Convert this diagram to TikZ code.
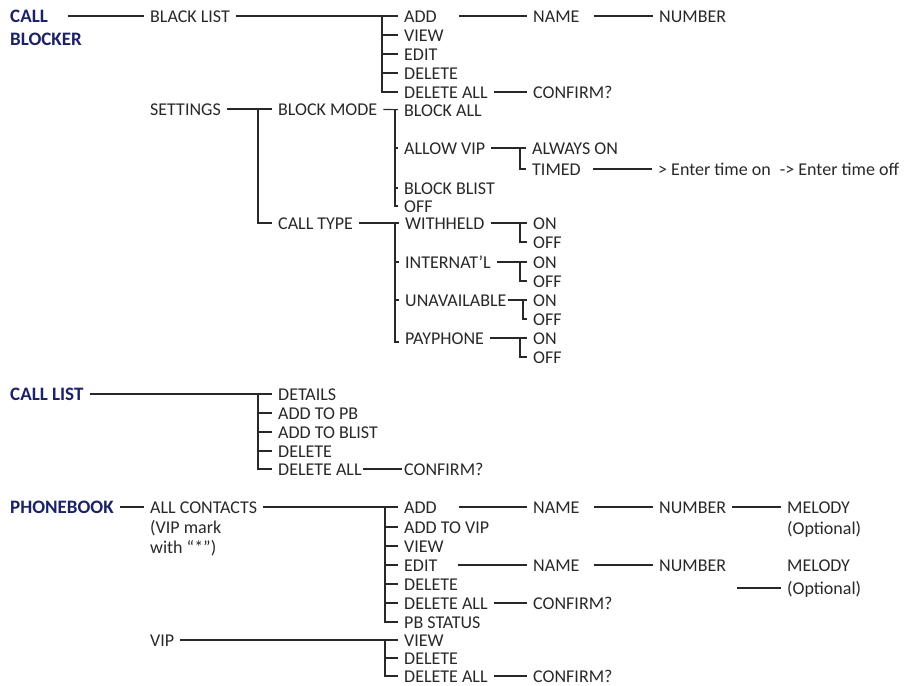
\documentclass[tikz,border=0pt]{standalone}
\usepackage{fontspec}
\setmainfont{Carlito}
\usepackage{xcolor}
\usepackage{tikz}

\definecolor{menublue}{RGB}{28,34,102}
\definecolor{menuink}{RGB}{40,40,40}

\tikzset{
  item/.style={anchor=west, inner xsep=6pt, inner ysep=0pt, text height=13pt, text depth=0pt,
    text=menuink, font=\fontsize{18}{18}\selectfont},
  head/.style={item, text=menublue, font=\fontsize{19}{19}\selectfont\bfseries},
  link/.style={draw=menuink, line width=1.1pt},
}

\begin{document}
\begin{tikzpicture}[x=1pt,y=-1pt]
\useasboundingbox (0,0) rectangle (907,685);

% call blocker
\node[head] (cb) at (4,16) {CALL};
\node[head] (cb2) at (4,39) {BLOCKER};
\node[item] (blist) at (144,16) {BLACK LIST};
\node[item] (bladd) at (398,16) {ADD};
\node[item] (blview) at (398,35) {VIEW};
\node[item] (bledit) at (398,54) {EDIT};
\node[item] (bldel) at (398,73) {DELETE};
\node[item] (bldelall) at (398,92) {DELETE ALL};
\node[item] (blname) at (527,16) {NAME};
\node[item] (blnumber) at (653,16) {NUMBER};
\node[item] (blconfirm) at (527,92) {CONFIRM?};

\draw[link] ([xshift=14pt]cb.east) -- (blist);
\draw[link] (blist) -- (bladd);
\coordinate (blspine) at (382,16);
\draw[link] (blspine) |- (bldelall);
\draw[link] (blspine |- blview) -- (blview);
\draw[link] (blspine |- bledit) -- (bledit);
\draw[link] (blspine |- bldel) -- (bldel);
\draw[link] ([xshift=16pt]bladd.east) -- (blname);
\draw[link] ([xshift=8pt]blname.east) -- (blnumber);
\draw[link] (bldelall) -- (blconfirm);

% settings
\node[item] (settings) at (144,109) {SETTINGS};
\node[item] (bmode) at (272,109) {BLOCK MODE};
\node[item] (bmall) at (398,110) {BLOCK ALL};
\node[item] (bmvip) at (398,148) {ALLOW VIP};
\node[item] (bmblist) at (398,188) {BLOCK BLIST};
\node[item] (bmoff) at (398,206) {OFF};
\node[item] (vipon) at (526,148) {ALWAYS ON};
\node[item] (viptimed) at (526,169) {TIMED};
\node[item] (viptime) at (652,169) {> Enter time on\enspace -> Enter time off};

\draw[link] (settings) -- (bmode);
\coordinate (setspine) at (258,109);
\draw[link] (bmode) -- (bmall);
\coordinate (bmspine) at (395,110);
\draw[link] (bmspine) |- (bmoff);
\draw[link] (bmspine |- bmvip) -- (bmvip);
\draw[link] (bmspine |- bmblist) -- (bmblist);
\draw[link] (bmvip) -- (vipon);
\coordinate (vipspine) at (520,148);
\draw[link] (vipspine) |- (viptimed);
\draw[link] ([xshift=6pt]viptimed.east) -- (viptime);

% call type
\node[item] (ctype) at (272,223) {CALL TYPE};
\node[item] (ctwith) at (399,223) {WITHHELD};
\node[item] (ctint) at (399,262) {INTERNAT’L};
\node[item] (ctuna) at (399,300) {UNAVAILABLE};
\node[item] (ctpay) at (399,338) {PAYPHONE};
\node[item] (withon) at (527,223) {ON};
\node[item] (withoff) at (527,242) {OFF};
\node[item] (inton) at (527,262) {ON};
\node[item] (intoff) at (527,281) {OFF};
\node[item] (unaon) at (527,300) {ON};
\node[item] (unaoff) at (527,319) {OFF};
\node[item] (payon) at (527,338) {ON};
\node[item] (payoff) at (527,357) {OFF};

\draw[link] (setspine) |- (ctype);
\draw[link] (ctype) -- (ctwith);
\coordinate (ctspine) at (395,223);
\draw[link] (ctspine) |- ([yshift=-4pt]ctpay.west);
\draw[link] (ctspine |- ctint) -- (ctint);
\draw[link] (ctspine |- ctuna) -- (ctuna);
\draw[link] (ctwith) -- (withon);
\draw[link] (520,223) |- (withoff);
\draw[link] (ctint) -- (inton);
\draw[link] (520,262) |- (intoff);
\draw[link] ([xshift=-5pt]ctuna.east) -- (unaon);
\draw[link] (523,300) |- (unaoff);
\draw[link] (ctpay) -- (payon);
\draw[link] (520,338) |- (payoff);

% call list
\node[head] (clist) at (4,394) {CALL LIST};
\node[item] (cldet) at (272,394) {DETAILS};
\node[item] (clpb) at (272,413) {ADD TO PB};
\node[item] (clbl) at (272,432) {ADD TO BLIST};
\node[item] (cldel) at (272,451) {DELETE};
\node[item] (cldelall) at (272,469) {DELETE ALL};
\node[item] (clconfirm) at (398,469) {CONFIRM?};

\draw[link] (clist) -- (cldet);
\coordinate (clspine) at (258,394);
\draw[link] (clspine) |- (cldelall);
\draw[link] (clspine |- clpb) -- (clpb);
\draw[link] (clspine |- clbl) -- (clbl);
\draw[link] (clspine |- cldel) -- (cldel);
\draw[link] ([xshift=-5pt]cldelall.east) -- ([xshift=4pt]clconfirm.west);

% phonebook
\node[head] (pb) at (4,507) {PHONEBOOK};
\node[item] (pball) at (144,507) {ALL CONTACTS};
\node[item] (pbnote1) at (144,527) {(VIP mark};
\node[item] (pbnote2) at (144,547) {with “*”)};
\node[item] (pbadd) at (398,507) {ADD};
\node[item] (pbaddvip) at (398,527) {ADD TO VIP};
\node[item] (pbview) at (398,546) {VIEW};
\node[item] (pbedit) at (398,565) {EDIT};
\node[item] (pbdel) at (398,584) {DELETE};
\node[item] (pbdelall) at (398,603) {DELETE ALL};
\node[item] (pbstatus) at (398,622) {PB STATUS};
\node[item] (pbaname) at (527,507) {NAME};
\node[item] (pbanumber) at (653,507) {NUMBER};
\node[item] (pbamelody) at (781,507) {MELODY};
\node[item] (pbaopt) at (781,528) {(Optional)};
\node[item] (pbename) at (527,565) {NAME};
\node[item] (pbenumber) at (653,565) {NUMBER};
\node[item] (pbemelody) at (781,565) {MELODY};
\node[item] (pbeopt) at (781,588) {(Optional)};
\node[item] (pbconfirm) at (527,603) {CONFIRM?};
\coordinate (pbefree) at (737,588);

\draw[link] (pb) -- (pball);
\draw[link] (pball) -- (pbadd);
\coordinate (pbspine) at (385,507);
\draw[link] (pbspine) |- (pbstatus);
\draw[link] (pbspine |- pbaddvip) -- (pbaddvip);
\draw[link] (pbspine |- pbview) -- (pbview);
\draw[link] (pbspine |- pbedit) -- (pbedit);
\draw[link] (pbspine |- pbdel) -- (pbdel);
\draw[link] (pbspine |- pbdelall) -- (pbdelall);
\draw[link] ([xshift=16pt]pbadd.east) -- (pbaname);
\draw[link] ([xshift=8pt]pbaname.east) -- (pbanumber);
\draw[link] (pbanumber) -- (pbamelody);
\draw[link] ([xshift=14pt]pbedit.east) -- (pbename);
\draw[link] ([xshift=8pt]pbename.east) -- (pbenumber);
\draw[link] (pbefree) -- (pbeopt);
\draw[link] (pbdelall) -- (pbconfirm);

% vip
\node[item] (pbvip) at (144,640) {VIP};
\node[item] (vpview) at (398,640) {VIEW};
\node[item] (vpdel) at (398,658) {DELETE};
\node[item] (vpdelall) at (398,676) {DELETE ALL};
\node[item] (vpconfirm) at (527,676) {CONFIRM?};

\draw[link] (pbvip) -- (vpview);
\coordinate (vpspine) at (385,640);
\draw[link] (vpspine) |- (vpdelall);
\draw[link] (vpspine |- vpdel) -- (vpdel);
\draw[link] (vpdelall) -- (vpconfirm);
\end{tikzpicture}
\end{document}
